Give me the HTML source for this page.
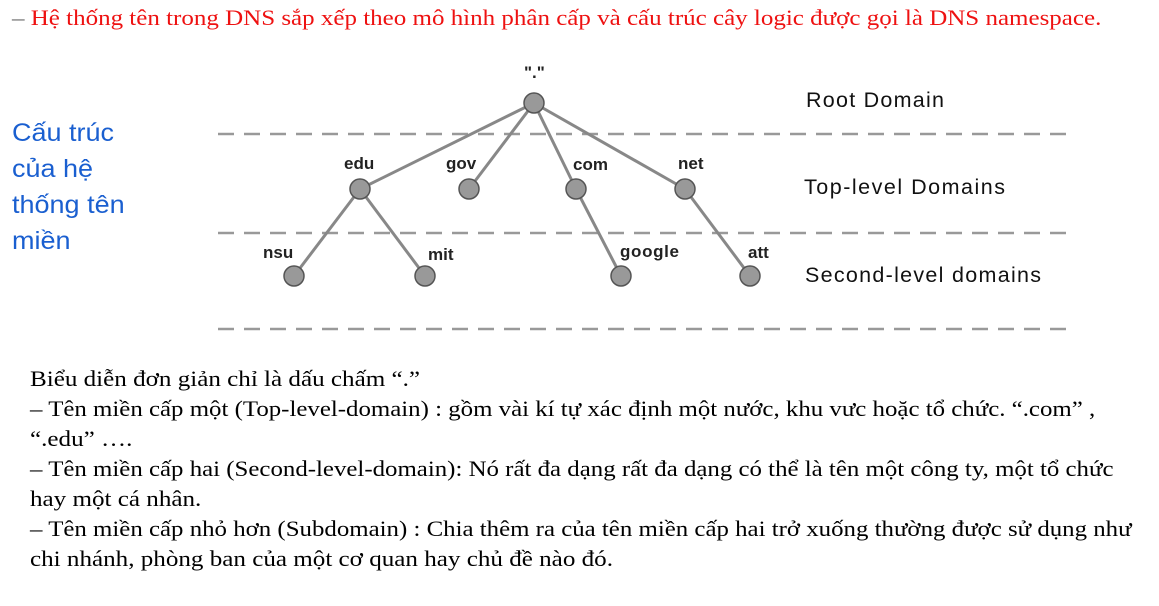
<!DOCTYPE html>
<html><head><meta charset="utf-8"><style>
body{margin:0;width:1159px;height:606px;background:#fff;position:relative;overflow:hidden}
.t{position:absolute;white-space:nowrap;font-family:"Liberation Serif",serif;font-size:22px;color:#000;transform-origin:0 0;transform:scaleX(1.14)}
.b{position:absolute;font-family:"Liberation Sans",sans-serif;font-size:25px;color:#1a5fd0;transform-origin:0 0;transform:scaleX(1.08)}
</style></head><body>
<div class="t" style="left:12px;top:5px;font-size:22px;color:#ee1111;transform:scaleX(1.136)"><span style="color:#666">–</span> Hệ thống tên trong DNS sắp xếp theo mô hình phân cấp và cấu trúc cây logic được gọi là DNS namespace.</div>
<div class="b" style="left:12px;top:119px">Cấu trúc</div>
<div class="b" style="left:12px;top:155px">của hệ</div>
<div class="b" style="left:12px;top:191px">thống tên</div>
<div class="b" style="left:12px;top:227px">miền</div>
<svg width="1159" height="606" style="position:absolute;left:0;top:0" font-family="Liberation Sans, sans-serif">
<g stroke="#999" stroke-width="2.5" stroke-dasharray="16,10">
<line x1="218" y1="134" x2="1068" y2="134"/><line x1="218" y1="233" x2="1068" y2="233"/><line x1="218" y1="329" x2="1068" y2="329"/></g>
<g stroke="#888" stroke-width="3">
<line x1="534" y1="103" x2="360" y2="189"/><line x1="534" y1="103" x2="469" y2="189"/><line x1="534" y1="103" x2="576" y2="189"/><line x1="534" y1="103" x2="685" y2="189"/>
<line x1="360" y1="189" x2="294" y2="276"/><line x1="360" y1="189" x2="425" y2="276"/><line x1="576" y1="189" x2="621" y2="276"/><line x1="685" y1="189" x2="750" y2="276"/></g>
<g fill="#999" stroke="#555" stroke-width="1.5">
<circle cx="534" cy="103" r="10"/><circle cx="360" cy="189" r="10"/><circle cx="469" cy="189" r="10"/><circle cx="576" cy="189" r="10"/><circle cx="685" cy="189" r="10"/>
<circle cx="294" cy="276" r="10"/><circle cx="425" cy="276" r="10"/><circle cx="621" cy="276" r="10"/><circle cx="750" cy="276" r="10"/></g>
<g font-size="17" font-weight="bold" fill="#222">
<text x="524" y="78">"."</text><text x="344" y="169">edu</text><text x="446" y="169">gov</text><text x="573" y="170">com</text><text x="678" y="169">net</text>
<text x="263" y="258">nsu</text><text x="428" y="260">mit</text><text x="620" y="257" textLength="59">google</text><text x="748" y="258">att</text></g>
<g font-size="21.5" fill="#111">
<text x="806" y="107" textLength="138">Root Domain</text><text x="804" y="194" textLength="201">Top-level Domains</text><text x="805" y="282" textLength="236">Second-level domains</text></g>
</svg>
<div class="t" style="left:30px;top:366px">Biểu diễn đơn giản chỉ là dấu chấm “.”</div>
<div class="t" style="left:30px;top:396px;transform:scaleX(1.13)">– Tên miền cấp một (Top-level-domain) : gồm vài kí tự xác định một nước, khu vưc hoặc tổ chức. “.com” ,</div>
<div class="t" style="left:30px;top:426px">“.edu” ….</div>
<div class="t" style="left:30px;top:456px;transform:scaleX(1.13)">– Tên miền cấp hai (Second-level-domain): Nó rất đa dạng rất đa dạng có thể là tên một công ty, một tổ chức</div>
<div class="t" style="left:30px;top:486px">hay một cá nhân.</div>
<div class="t" style="left:30px;top:516px;transform:scaleX(1.13)">– Tên miền cấp nhỏ hơn (Subdomain) : Chia thêm ra của tên miền cấp hai trở xuống thường được sử dụng như</div>
<div class="t" style="left:30px;top:546px">chi nhánh, phòng ban của một cơ quan hay chủ đề nào đó.</div>
</body></html>
